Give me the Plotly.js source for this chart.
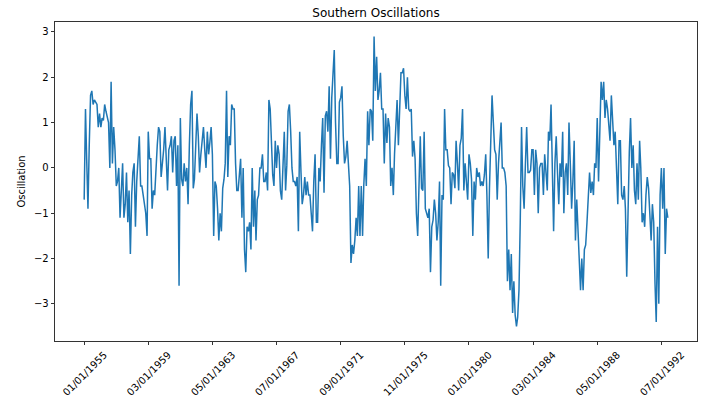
<!DOCTYPE html>
<html>
<head>
<meta charset="utf-8">
<script src="https://cdn.plot.ly/plotly-3.0.1.min.js"></script>
<style>
  html, body { margin: 0; padding: 0; background: #fff; }
  #chart { width: 710px; height: 398px; }
</style>
</head>
<body>
<div id="chart"></div>
<script>
// Monthly Southern Oscillation index, January 1955 onward
const soi = [
  -0.7, 1.3, 0.2, -0.9, 0.5, 1.6, 1.7, 1.4, 1.5, 1.45,
  1.4, 0.9, 1.2, 0.9, 1.1, 1.05, 1.4, 1.25, 1.1, 1.0,
  0.0, 1.9, 0.1, 0.9, 0.4, -0.4, -0.3, 0.0, -1.1, -0.3,
  0.1, -1.1, -0.8, -0.1, -1.2, -0.5, -1.9, -0.6, -0.1, 0.1,
  -1.3, -0.3, 0.35, 0.7, -0.4, -0.4, -0.6, -0.8, -1.0, -1.5,
  0.8, 0.2, 0.2, -0.9, -0.5, -0.6, 0.1, 0.5, 0.9, 0.8,
  -0.2, 0.1, 0.4, 0.9, 0.35, -0.5, 0.4, 0.5, 0.7, -0.1,
  0.6, 0.7, -0.4, 0.5, -2.6, 1.1, -0.25, -0.4, 0.1, -0.3,
  0.0, -0.8, 0.5, 1.4, 1.7, -0.45, -0.25, 0.4, 1.2, 0.7,
  -0.1, 0.3, 0.6, 0.9, 0.4, 0.0, 0.8, 0.3, 0.55, 0.9,
  0.3, -1.5, -0.3, -0.4, -0.9, -1.6, -1.0, -1.4, -0.45, -0.25,
  0.1, 1.7, -0.2, 0.7, 0.5, 1.4, 1.3, 1.3, 0.1, -0.5,
  -0.5, 0.0, 0.2, -1.1, 0.0, -1.8, -2.3, -1.3, -1.4, -1.2,
  -1.8, 0.0, -1.3, -0.5, -1.6, -0.7, -0.6, 0.0, 0.0, 0.3,
  -0.3, -0.3, -0.1, -0.5, 1.5, 1.3, 0.7, -0.15, -0.4, 0.6,
  0.0, 0.5, 0.3, -0.5, -0.7, 0.0, 0.8, -0.5, 0.05, 1.25,
  1.4, 0.8, 0.0, -0.3, -0.3, -0.4, -0.2, -1.4, 0.8, -0.1,
  -0.8, -0.6, -0.2, -0.6, -0.3, -0.6, -0.6, -1.0, -1.4, -0.3,
  0.3, -1.2, -1.2, 0.0, -0.3, 0.5, 1.1, -0.55, 1.15, 1.25,
  0.8, 1.8, 0.2, 1.55, 2.0, 2.6, 1.0, 0.1, 0.1, 1.45,
  1.55, 1.8, 0.7, 0.1, 0.25, 0.6, 0.1, -0.4, -2.1, -1.7,
  -1.9, -1.6, -1.1, -1.5, -0.4, -1.5, -0.4, -1.5, -0.4, 0.2,
  -0.4, 1.25, 0.5, 1.3, 1.25, 0.6, 2.9, 1.7, 2.45, 1.5,
  1.7, 2.1, 1.3, 1.3, 0.1, 1.2, 0.55, 1.1, 0.9, -0.4,
  0.0, -0.6, 0.3, 1.0, 1.5, 0.5, 1.45, 2.1, 2.1, 2.2,
  1.6, 1.3, 2.0, 1.3, 1.25, 1.3, 0.25, 0.6, 0.2, -1.0,
  -1.5, -0.3, 0.7, -0.45, -0.5, 0.8, -0.9, -1.0, -1.1, -0.9,
  -2.3, -1.3, -1.15, -0.7, -1.0, -1.6, -1.2, -0.3, -2.6, -0.6,
  -0.7, 1.3, 0.4, 0.4, 0.05, 0.0, -0.8, -0.1, -0.15, -0.45,
  0.6, 0.1, -0.5, 0.5, 0.65, 1.3, -0.5, 0.1, -0.25, -0.7,
  0.3, 0.1, -0.25, -1.5, -0.3, -0.7, 0.0, -0.2, -0.1, -0.4,
  -0.3, -0.4, -0.15, 0.3, -0.6, -2.0, -0.45, 1.0, 1.6, 1.0,
  0.4, 0.3, -0.7, 0.1, 0.7, 1.0, 0.0, 0.0, -0.1, -0.4,
  -2.5, -1.8, -2.7, -1.9, -3.2, -2.5, -3.25, -3.5, -3.3, -2.7,
  -1.2, 0.9, -0.4, -0.9, 0.1, 0.9, -0.1, -0.1, -0.05, 0.4,
  0.4, -0.6, 0.4, 0.1, -1.0, 0.0, 0.1, 0.1, -0.6, 0.3,
  -0.1, -0.5, 0.8, 0.6, 1.4, -0.1, -1.4, 0.1, 0.7, -0.1,
  -0.8, 0.1, -0.2, 0.8, -1.0, -0.1, 0.1, -0.6, 1.0, 0.1,
  -0.9, -0.3, 0.6, -1.6, -0.7, -1.4, -2.0, -2.7, -2.0, -2.7,
  -1.8, -1.7, -1.2, -0.45, -0.1, -0.55, -0.3, -0.6, 0.1, 0.0,
  1.1, -0.3, 1.2, 1.9, 1.5, 1.9, 1.1, 1.5, 1.3, 1.0,
  0.6, 1.6, 1.0, 0.5, 0.8, 0.1, -0.8, 0.6, 0.6, -0.6,
  -0.7, -0.4, -0.9, -2.4, -0.75, 0.35, 1.1, 0.0, 0.5, -0.5,
  -0.8, 0.1, -0.7, 0.6, 0.0, -1.2, -1.0, -1.3, -0.6, -0.2,
  -0.45, -1.2, -1.6, -0.8, -1.2, -2.55, -3.4, -1.3, -3.0, -0.6,
  0.0, -0.9, 0.0, -1.9, -0.9, -1.1
];

const startYear = 1955;
const startMonth = 1;

const tickVals = ['1955-01-01','1959-03-01','1963-05-01','1967-07-01','1971-09-01',
                  '1975-11-01','1980-01-01','1984-03-01','1988-05-01','1992-07-01'];
const tickText = ['01/01/1955','03/01/1959','05/01/1963','07/01/1967','09/01/1971',
                  '11/01/1975','01/01/1980','03/01/1984','05/01/1988','07/01/1992'];
const yTicks = [-3, -2, -1, 0, 1, 2, 3];

// monthly dates for each observation
const dates = soi.map((_, i) => {
  const m0 = (startMonth - 1) + i;
  const y = startYear + Math.floor(m0 / 12);
  const m = (m0 % 12) + 1;
  return y + '-' + String(m).padStart(2, '0') + '-01';
});

// matplotlib-like 5% margins
const t0 = Date.UTC(startYear, startMonth - 1, 1);
const lastM = (startMonth - 1) + soi.length - 1;
const t1 = Date.UTC(startYear + Math.floor(lastM / 12), lastM % 12, 1);
const xPad = 0.05 * (t1 - t0);
const yMin = Math.min(...soi), yMax = Math.max(...soi);
const yPad = 0.05 * (yMax - yMin);

const trace = {
  x: dates,
  y: soi,
  type: 'scatter',
  mode: 'lines',
  line: { color: '#1f77b4', width: 1.5 },
  hoverinfo: 'x+y'
};

const axisCommon = {
  showline: true, linecolor: '#000', linewidth: 0.8, mirror: true,
  ticks: 'outside', ticklen: 3.5, tickwidth: 0.8, tickcolor: '#000',
  showgrid: false, zeroline: false,
  tickfont: { family: 'DejaVu Sans, sans-serif', size: 10, color: '#000' }
};

const layout = {
  width: 710, height: 398,
  margin: { l: 55, r: 13, t: 22, b: 57, pad: 0 },
  paper_bgcolor: '#fff', plot_bgcolor: '#fff',
  showlegend: false,
  title: {
    text: 'Southern Oscillations',
    font: { family: 'DejaVu Sans, sans-serif', size: 12, color: '#000' },
    x: 0.5, xref: 'paper', xanchor: 'center',
    y: 1, yref: 'paper', yanchor: 'bottom', pad: { b: 5 }
  },
  xaxis: Object.assign({}, axisCommon, {
    type: 'date',
    range: [t0 - xPad, t1 + xPad],
    tickmode: 'array', tickvals: tickVals, ticktext: tickText,
    tickangle: -45, automargin: false,
    ticklabelshift: 20, ticklabelstandoff: 0
  }),
  yaxis: Object.assign({}, axisCommon, {
    range: [yMin - yPad, yMax + yPad],
    tickmode: 'array', tickvals: yTicks,
    automargin: false,
    title: { text: 'Oscillation', standoff: 6,
             font: { family: 'DejaVu Sans, sans-serif', size: 10, color: '#000' } }
  })
};

Plotly.newPlot('chart', [trace], layout, { displayModeBar: false, staticPlot: true });
</script>
</body>
</html>
